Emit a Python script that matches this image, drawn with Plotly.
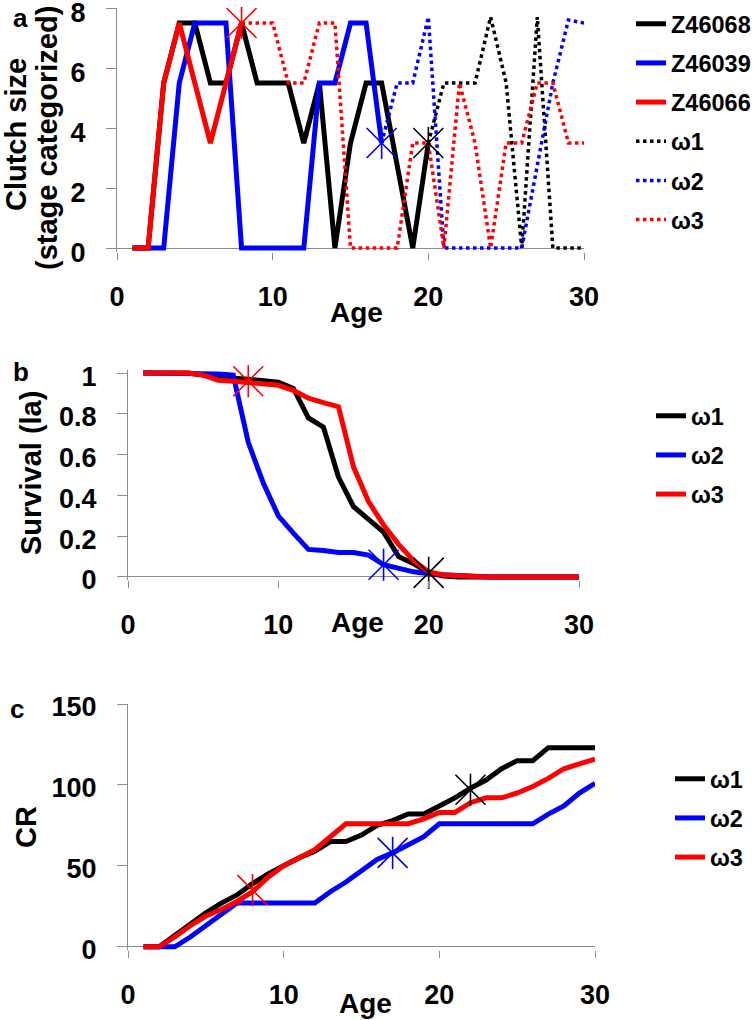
import plotly.graph_objects as go

W, H = 755, 1020

# panel a: clutch size (stage categorized)
age_z46068 = [1, 2, 3, 4, 5, 6, 7, 8, 9, 10, 11, 12, 13, 14, 15, 16, 17, 18, 19, 20]
z46068 = [0, 0, 5.5, 7.5, 7.5, 5.5, 5.5, 7.5, 5.5, 5.5, 5.5, 3.5, 5.5, 0, 3.5, 5.5, 5.5, 2.75, 0, 3.5]
age_z46039 = [1, 2, 3, 4, 5, 6, 7, 8, 9, 10, 11, 12, 13, 14, 15, 16, 17]
z46039 = [0, 0, 0, 5.5, 7.5, 7.5, 7.5, 0, 0, 0, 0, 0, 5.5, 5.5, 7.5, 7.5, 3.5]
age_z46066 = [1, 2, 3, 4, 5, 6, 7, 8]
z46066 = [0, 0, 5.5, 7.5, 5.5, 3.5, 5.5, 7.5]
age_w1 = [20, 21, 22, 23, 24, 25, 26, 27, 28, 29, 30]
clutch_w1 = [3.5, 5.5, 5.5, 5.5, 7.7, 5.5, 0, 7.7, 0, 0, 0]
age_w2 = [17, 18, 19, 20, 21, 22, 23, 24, 25, 26, 27, 28, 29, 30]
clutch_w2 = [3.5, 5.5, 5.5, 7.7, 0, 0, 0, 0, 0, 0, 2.75, 5.5, 7.6, 7.5]
age_w3 = [8, 9, 10, 11, 12, 13, 14, 15, 16, 17, 18, 19, 20, 21, 22, 23, 24, 25, 26, 27, 28, 29, 30]
clutch_w3 = [7.5, 7.5, 7.5, 5.5, 5.5, 7.5, 7.5, 0, 0, 0, 0, 3.5, 3.5, 0, 5.5, 3.5, 0, 3.5, 3.5, 5.5, 5.5, 3.5, 3.5]

# panels b and c
age = [1, 2, 3, 4, 5, 6, 7, 8, 9, 10, 11, 12, 13, 14, 15, 16, 17, 18, 19, 20,
       21, 22, 23, 24, 25, 26, 27, 28, 29, 30]
surv_w1 = [1, 1, 1, 1, 0.99, 0.98, 0.975, 0.97, 0.96, 0.955, 0.925, 0.78, 0.735, 0.49, 0.345,
           0.285, 0.22, 0.1, 0.065, 0.02, 0.005, 0, 0, 0, 0, 0, 0, 0, 0, 0]
surv_w2 = [1, 1, 1, 1, 1, 0.995, 0.99, 0.66, 0.46, 0.3, 0.215, 0.135, 0.13, 0.12, 0.12,
           0.107, 0.06, 0.04, 0.025, 0.015, 0.01, 0.006, 0.003, 0, 0, 0, 0, 0, 0, 0]
surv_w3 = [1, 1, 1, 1, 0.99, 0.965, 0.96, 0.955, 0.95, 0.94, 0.915, 0.877, 0.855, 0.835, 0.54,
           0.37, 0.255, 0.16, 0.08, 0.025, 0.01, 0.005, 0, 0, 0, 0, 0, 0, 0, 0]
cr_w1 = [0, 0, 7, 14, 21, 27, 32, 39, 45, 50, 55, 59, 65, 65, 69, 75, 78, 82, 82, 87,
         92, 98, 103, 110, 115, 115, 123, 123, 123, 123]
cr_w2 = [0, 0, 0, 6, 13, 20, 27, 27, 27, 27, 27, 27, 34, 40, 47, 54, 58, 63, 68, 76,
         76, 76, 76, 76, 76, 76, 82, 87, 95, 101]
cr_w3 = [0, 0, 6, 13, 19, 23, 28, 34, 43, 50, 55, 60, 68, 76, 76, 76, 76, 76, 79, 83,
         83, 89, 92, 92, 95, 99, 104, 110, 113, 116]

# asterisk points (age, value) per panel
star_a = {"red": (8, 7.5), "blue": (17, 3.5), "black": (20, 3.5)}
star_b = {"red": (8, 0.96), "blue": (17, 0.06), "black": (20, 0.02)}
star_c = {"red": (8, 35), "blue": (17, 58), "black": (22, 97)}

BLACK, BLUE, RED = "#000000", "#0000FF", "#FF0000"
FONT = "Liberation Sans, Arial, sans-serif"
GREY = "#8c8c8c"


def px(x):
    return x / W


def py(y):
    return 1 - y / H


fig = go.Figure()


def line(x, y, name, color, ax, legend, dash="solid", width=5):
    fig.add_trace(go.Scatter(
        x=x, y=y, name=name, mode="lines", xaxis="x" + ax, yaxis="y" + ax,
        line=dict(color=color, width=width, dash=dash),
        legend=legend, legendgroup=legend + name,
    ))


def stars(points, ax):
    for color, (sx, sy) in points.items():
        for sym, size in (("x-thin-open", 30), ("line-ns-open", 23)):
            fig.add_trace(go.Scatter(
                x=[sx], y=[sy], mode="markers", xaxis="x" + ax, yaxis="y" + ax,
                showlegend=False, cliponaxis=False,
                marker=dict(symbol=sym, size=size, color=color,
                            line=dict(color=color, width=1.6)),
            ))


line(age_z46068, z46068, "Z46068", BLACK, "", "legend")
line(age_z46039, z46039, "Z46039", BLUE, "", "legend")
line(age_z46066, z46066, "Z46066", RED, "", "legend")
line(age_w1, clutch_w1, "ω1", BLACK, "", "legend", "dot", 3.5)
line(age_w2, clutch_w2, "ω2", BLUE, "", "legend", "dot", 3.5)
line(age_w3, clutch_w3, "ω3", RED, "", "legend", "dot", 3.5)

line(age, surv_w1, "ω1", BLACK, "2", "legend2")
line(age, surv_w2, "ω2", BLUE, "2", "legend2")
line(age, surv_w3, "ω3", RED, "2", "legend2")

line(age, cr_w1, "ω1", BLACK, "3", "legend3")
line(age, cr_w2, "ω2", BLUE, "3", "legend3")
line(age, cr_w3, "ω3", RED, "3", "legend3")

stars(star_a, "")
stars(star_b, "2")
stars(star_c, "3")

tickfont = dict(family=FONT, size=27, color="black", weight="bold")


def xaxis(x0, x1, anchor):
    return dict(domain=[px(x0), px(x1)], range=[0, 30], anchor=anchor,
                tickvals=[0, 10, 20, 30], showgrid=False, zeroline=False,
                showline=False, ticks="outside", ticklen=7, tickcolor=GREY,
                tickfont=tickfont, ticklabelstandoff=14, ticklabeloverflow="allow")


def yaxis(top, bottom, rng, tickvals, ticktext, anchor, shift=3):
    return dict(domain=[py(bottom), py(top)], range=rng, anchor=anchor,
                tickvals=tickvals, ticktext=ticktext, showgrid=False,
                zeroline=True, zerolinecolor=GREY, zerolinewidth=1,
                showline=True, linecolor=GREY, linewidth=1,
                ticks="outside", ticklen=10, tickcolor=GREY,
                tickfont=tickfont, ticklabelstandoff=15, ticklabelshift=shift,
                ticklabeloverflow="allow")


legend_font = dict(family=FONT, size=23.5, color="black", weight="bold")


def legend(x, y, anchor="top"):
    return dict(x=px(x), y=py(y), xanchor="left", yanchor=anchor,
                font=legend_font, bgcolor="rgba(0,0,0,0)", borderwidth=0,
                tracegroupgap=5.6, itemclick=False)


def label(text, x, y, size=28, angle=0):
    return dict(text=text, x=px(x), y=py(y), xref="paper", yref="paper",
                showarrow=False, xanchor="center", yanchor="middle",
                textangle=angle, font=dict(family=FONT, size=size, color="black",
                                           weight="bold"))


fig.update_layout(
    width=W, height=H, margin=dict(l=0, r=0, t=0, b=0, autoexpand=False),
    paper_bgcolor="white", plot_bgcolor="white",
    xaxis=xaxis(117, 584, "y"),
    yaxis=yaxis(8, 251.6, [-0.12, 8], [0, 2, 4, 6, 8], ["0", "2", "4", "6", "8"], "x", 5),
    xaxis2=xaxis(128, 579, "y2"),
    yaxis2=yaxis(370, 580, [-0.015, 1.015], [0, 0.2, 0.4, 0.6, 0.8, 1],
                 ["0", "0.2", "0.4", "0.6", "0.8", "1"], "x2"),
    xaxis3=xaxis(128, 595, "y3"),
    yaxis3=yaxis(704, 950, [-2, 150], [0, 50, 100, 150], ["0", "50", "100", "150"], "x3"),
    legend=legend(631, 122, "middle"),
    legend2=legend(651, 394),
    legend3=legend(670, 757),
    annotations=[
        label("a", 20, 18, 26),
        label("Clutch size", 16, 135, 29, -90),
        label("(stage categorized)", 47, 138, 29, -90),
        label("Age", 356, 312),
        label("b", 21, 372, 26),
        label("Survival (la)", 31, 473, 29, -90),
        label("Age", 357, 622),
        label("c", 17, 709, 26),
        label("CR", 26, 827, 29, -90),
        label("Age", 365, 1003),
    ],
)

# drop the default 8px page margin so the figure fills the window exactly
fig.write_html("out.html", config={"displayModeBar": False},
               post_script="document.body.style.margin = '0';")
